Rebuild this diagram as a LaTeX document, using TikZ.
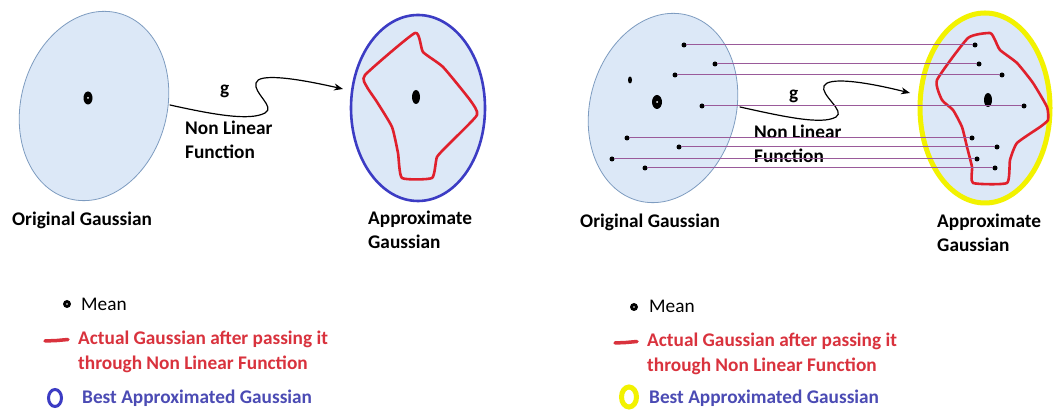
\documentclass[tikz,border=0pt]{standalone}
\usepackage{fontspec}
\setmainfont{Carlito}
\usepackage{xcolor}
\definecolor{gaussfill}{HTML}{DCE8F7}
\definecolor{gaussedge}{HTML}{7E9CC0}
\definecolor{approxblue}{HTML}{3C3CC4}
\definecolor{actualred}{HTML}{E0202C}
\definecolor{legendred}{HTML}{D9323D}
\definecolor{legendblue}{HTML}{4B4BB4}
\definecolor{approxyellow}{HTML}{F2F200}
\definecolor{samplepurple}{HTML}{9A5A9A}
\usepackage{tikz}
\usetikzlibrary{arrows.meta}

\begin{document}
\begin{tikzpicture}[x=1pt,y=1pt,line cap=round,
    font=\fontsize{19.3}{24.5}\selectfont\bfseries,
    lbl/.style={anchor=west,inner sep=0pt,align=left},
    fnarrow/.style={-{Stealth[length=9pt,width=7pt]},line width=1.2pt},
    sample/.style={circle,fill=black,inner sep=0pt,minimum size=5pt},
    sampleline/.style={samplepurple,line width=1pt},
    actual/.style={actualred,line width=2.6pt,line join=round}]
  \useasboundingbox (0,0) rectangle (1054,411);
  \fill[white] (0,0) rectangle (1054,411);

  % ---------------- left panel ----------------
  % original gaussian
  \filldraw[fill=gaussfill,draw=gaussedge,line width=0.8pt,rotate around={-15:(94,305)}]
    (94,305) ellipse (73 and 96);
  \fill (88,313) ellipse (4.5 and 6.5);
  \fill[white] (88,313) circle (1);
  \node[lbl] (orig1) at (12,191) {Original Gaussian};
  % approximate gaussian
  \filldraw[fill=gaussfill,draw=approxblue,line width=2.6pt] (418,303) ellipse (67 and 93);
  \draw[actual] plot[smooth cycle,tension=0.3] coordinates
    {(415,378) (365,336) (367,324) (377,309) (392,284) (398,258) (402,233)
     (432,233) (437,254) (450,268) (477,296) (470,311) (443,344) (423,359)};
  \fill (416,314) ellipse (4 and 7);
  \node[lbl] (approx1) at (368,181) {Approximate\\Gaussian};
  % non linear function g
  \coordinate (g1s) at (170,306);
  \coordinate (g1e) at (343,322);
  \draw[fnarrow] (g1s) .. controls (215,296) and (250,290) .. (265,298)
    .. controls (276,304) and (253,318) .. (256,328)
    .. controls (258,338) and (295,333) .. (g1e);
  \node[lbl] (g1) at (220,320) {g};
  \node[lbl] (nl1) at (185,271) {Non Linear\\Function};

  % legend
  \fill (67,107) circle (4);
  \fill[white] (67,107) circle (0.8);
  \node[lbl,font=\fontsize{19.3}{24.5}\selectfont] (mean1) at (81,107) {Mean};
  \draw[legendred,line width=3.5pt] (45,70) -- (57,70.5) -- (68,71.5);
  \node[lbl,legendred] (act1) at (78,59) {Actual Gaussian after passing it\\through Non Linear Function};
  \draw[approxblue,line width=3pt] (55,13) ellipse (6.5 and 8.5);
  \node[lbl,legendblue] (best1) at (82,13) {Best Approximated Gaussian};

  % ---------------- right panel ----------------
  % original gaussian with samples
  \filldraw[fill=gaussfill,draw=gaussedge,line width=0.8pt,rotate around={-15:(663,303)}]
    (663,303) ellipse (73 and 96);
  \fill (657,309) ellipse (5 and 7);
  \fill[white] (657,309) circle (1);
  \fill (630,331) ellipse (2 and 3.5);
  \node[lbl] (orig2) at (580,189) {Original Gaussian};
  % approximate gaussian
  \filldraw[fill=gaussfill,draw=approxyellow,line width=5pt] (985,303) ellipse (65 and 95);
  \draw[actual] plot[smooth cycle,tension=0.3] coordinates
    {(968,373) (990,378) (995,371) (1000,361) (1017,348) (1033,328) (1047,304)
     (1048,291) (1040,284) (1017,268) (1010,251) (1007,228) (973,228) (972,244)
     (967,264) (962,284) (953,301) (942,311) (937,331)};
  \fill (988,311) ellipse (4 and 7);
  \node[lbl] (approx2) at (937,178) {Approximate\\Gaussian};
  % non linear function g
  \coordinate (g2s) at (740,304);
  \coordinate (g2e) at (910,318);
  \draw[fnarrow] (g2s) .. controls (785,294) and (822,286) .. (836,294)
    .. controls (846,300) and (820,316) .. (824,325)
    .. controls (828,334) and (862,330) .. (g2e);
  \node[lbl] (g2) at (789,315) {g};
  \node[lbl] (nl2) at (754,267) {Non Linear\\Function};
  % samples mapped through g
  \foreach \i/\xa/\xb/\y in {1/684/975/366, 2/715/979/347, 3/675/1002/336,
      4/702/1024/305, 5/627/972/273, 6/679/997/264, 7/612/977/252, 8/645/995/243} {
    \node[sample] (s\i a) at (\xa,\y) {};
    \node[sample] (s\i b) at (\xb,\y) {};
    \draw[sampleline] (s\i a) -- (s\i b);
  }

  % legend
  \fill (634,104) circle (4);
  \fill[white] (634,104) circle (0.8);
  \node[lbl,font=\fontsize{19.3}{24.5}\selectfont] (mean2) at (649,105) {Mean};
  \draw[legendred,line width=3.5pt] (615,68) -- (626,68.5) -- (637,69.5);
  \node[lbl,legendred] (act2) at (647,57) {Actual Gaussian after passing it\\through Non Linear Function};
  \draw[approxyellow,line width=5pt] (629,14) ellipse (7.5 and 10);
  \node[lbl,legendblue] (best2) at (649,13) {Best Approximated Gaussian};
\end{tikzpicture}
\end{document}
